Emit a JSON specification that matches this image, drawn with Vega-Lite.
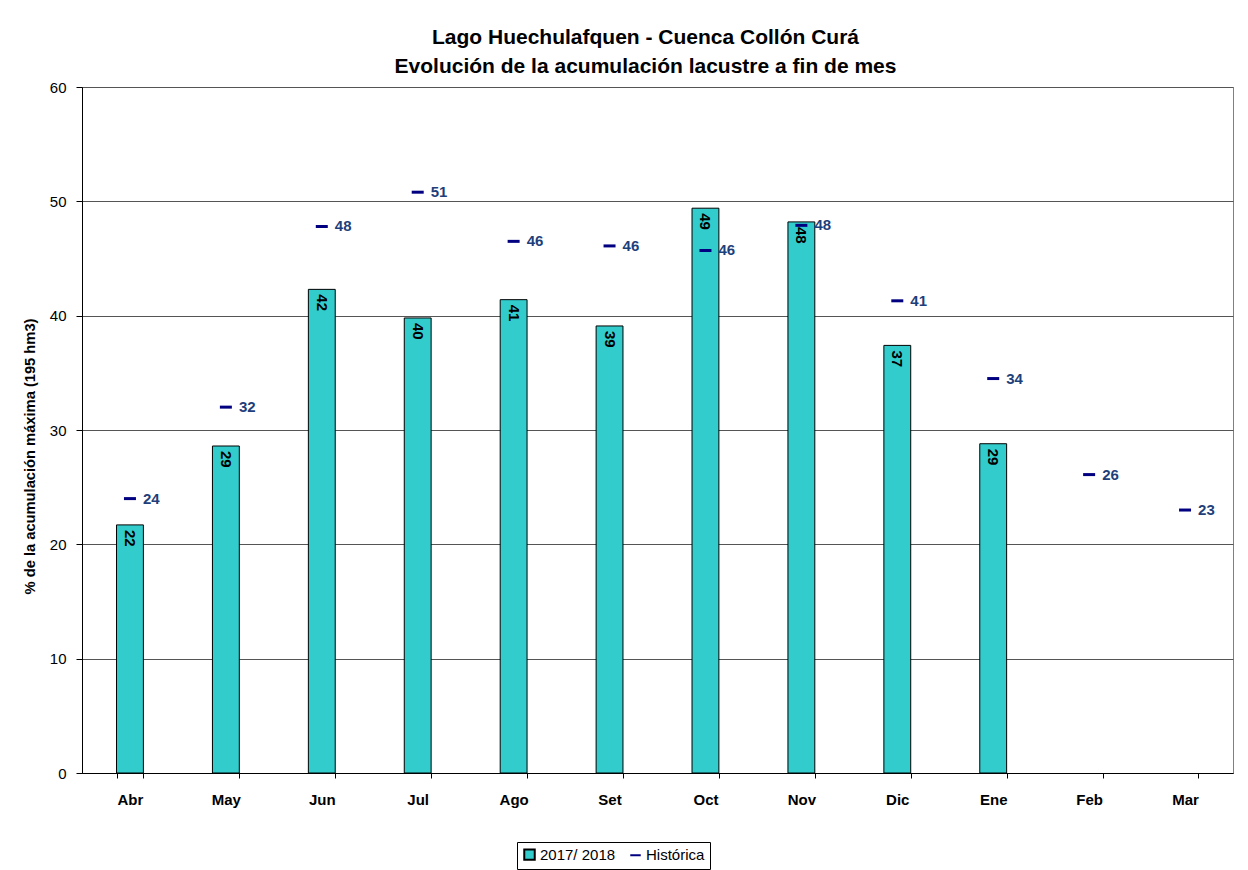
{
  "$schema": "https://vega.github.io/schema/vega-lite/v6.json",
  "autosize": {"type": "none"},
  "width": 1151,
  "height": 686,
  "padding": {"left": 82, "top": 87, "right": 15, "bottom": 97},
  "background": "white",
  "title": {
    "text": ["Lago Huechulafquen - Cuenca Collón Curá", "Evolución de la acumulación lacustre a fin de mes"],
    "font": "Liberation Sans",
    "fontSize": 21,
    "fontWeight": "bold",
    "color": "black",
    "anchor": "middle",
    "dx": -12,
    "offset": 3,
    "lineHeight": 29
  },
  "config": {
    "font": "Liberation Sans",
    "view": {"stroke": "#808080", "strokeWidth": 1},
    "legend": {
      "title": null,
      "orient": "none",
      "direction": "horizontal",
      "legendX": 435,
      "legendY": 755,
      "labelFont": "Liberation Sans",
      "labelFontSize": 15,
      "labelColor": "black",
      "symbolSize": 110,
      "symbolStrokeWidth": 2,
      "columnPadding": 10,
      "padding": 5,
      "strokeColor": "black",
      "fillColor": "white",
      "labelOffset": 3
    }
  },
  "data": {
    "values": [
      {"mes": "Abr", "actual": 21.7, "hist": 24.0, "la": "22", "lh": "24"},
      {"mes": "May", "actual": 28.6, "hist": 32.0, "la": "29", "lh": "32"},
      {"mes": "Jun", "actual": 42.3, "hist": 47.8, "la": "42", "lh": "48"},
      {"mes": "Jul", "actual": 39.8, "hist": 50.8, "la": "40", "lh": "51"},
      {"mes": "Ago", "actual": 41.4, "hist": 46.5, "la": "41", "lh": "46"},
      {"mes": "Set", "actual": 39.1, "hist": 46.1, "la": "39", "lh": "46"},
      {"mes": "Oct", "actual": 49.4, "hist": 45.7, "la": "49", "lh": "46"},
      {"mes": "Nov", "actual": 48.2, "hist": 47.9, "la": "48", "lh": "48"},
      {"mes": "Dic", "actual": 37.4, "hist": 41.3, "la": "37", "lh": "41"},
      {"mes": "Ene", "actual": 28.8, "hist": 34.5, "la": "29", "lh": "34"},
      {"mes": "Feb", "actual": null, "hist": 26.1, "la": "", "lh": "26"},
      {"mes": "Mar", "actual": null, "hist": 23.0, "la": "", "lh": "23"}
    ]
  },
  "encoding": {
    "x": {
      "field": "mes",
      "type": "nominal",
      "sort": null,
      "scale": {"paddingInner": 0.72, "paddingOuter": 0.36},
      "axis": {
        "title": null,
        "labelAngle": 0,
        "labelFont": "Liberation Sans",
        "labelFontSize": 15,
        "labelFontWeight": "bold",
        "labelColor": "black",
        "labelPadding": 14,
        "domainColor": "black",
        "tickColor": "black",
        "tickSize": 5,
        "tickBand": "extent",
        "grid": false
      }
    }
  },
  "layer": [
    {
      "mark": {"type": "bar", "color": "#33CCCC", "stroke": "black", "strokeWidth": 1},
      "encoding": {
        "y": {
          "field": "actual",
          "type": "quantitative",
          "scale": {"domain": [0, 60], "nice": false},
          "axis": {
            "title": "% de la acumulación máxima (195 hm3)",
            "titleFont": "Liberation Sans",
            "titleFontSize": 14.7,
            "titleFontWeight": "bold",
            "titleColor": "black",
            "titlePadding": 12,
            "titleY": 369,
            "values": [0, 10, 20, 30, 40, 50, 60],
            "labelFont": "Liberation Sans",
            "labelFontSize": 15,
            "labelColor": "black",
            "labelPadding": 10,
            "domainColor": "black",
            "tickColor": "black",
            "tickSize": 6,
            "gridColor": "#555555",
            "gridWidth": 1
          }
        },
        "color": {
          "datum": "2017/ 2018",
          "type": "nominal",
          "scale": {"domain": ["2017/ 2018", "Histórica"], "range": ["#33CCCC", "#000080"]}
        }
      }
    },
    {
      "mark": {"type": "text", "angle": 90, "align": "left", "baseline": "middle", "dx": 5, "fontSize": 15, "fontWeight": "bold", "color": "black"},
      "encoding": {
        "y": {"field": "actual", "type": "quantitative"},
        "text": {"field": "la"}
      }
    },
    {
      "mark": {"type": "point", "filled": false, "size": 144, "strokeWidth": 3, "opacity": 1},
      "encoding": {
        "y": {"field": "hist", "type": "quantitative"},
        "color": {"datum": "Histórica", "type": "nominal"},
        "shape": {
          "datum": "Histórica",
          "type": "nominal",
          "scale": {"domain": ["2017/ 2018", "Histórica"], "range": ["square", "stroke"]}
        },
        "stroke": {
          "datum": "Histórica",
          "type": "nominal",
          "scale": {"domain": ["2017/ 2018", "Histórica"], "range": ["black", "#000080"]}
        }
      }
    },
    {
      "mark": {"type": "text", "align": "left", "baseline": "middle", "dx": 13, "fontSize": 15, "fontWeight": "bold", "color": "#1F3F7A"},
      "encoding": {
        "y": {"field": "hist", "type": "quantitative"},
        "text": {"field": "lh"}
      }
    }
  ]
}
